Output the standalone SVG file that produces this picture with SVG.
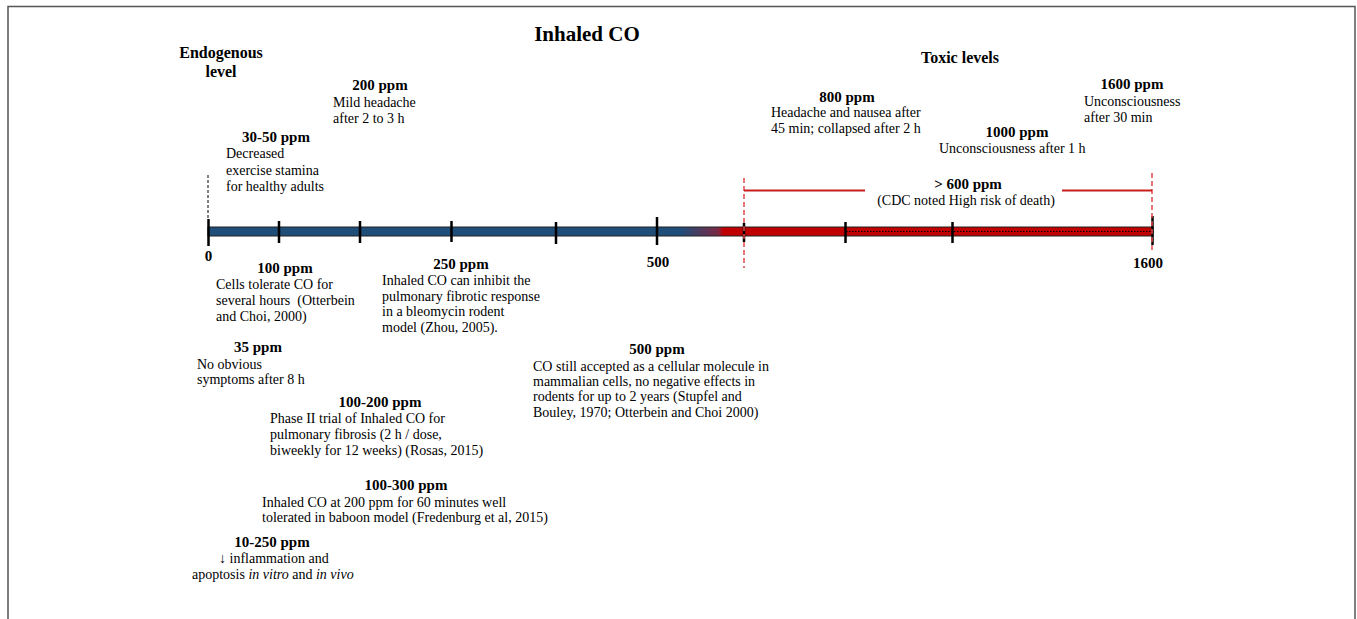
<svg xmlns="http://www.w3.org/2000/svg" width="1357" height="619" viewBox="0 0 1357 619">
<defs>
<linearGradient id="barGrad" gradientUnits="userSpaceOnUse" x1="208" y1="0" x2="1153" y2="0">
<stop offset="0" stop-color="#1F4E79"/>
<stop offset="0.5" stop-color="#1F4E79"/>
<stop offset="0.54" stop-color="#7A2A45"/>
<stop offset="0.545" stop-color="#C00000"/>
<stop offset="1" stop-color="#C00000"/>
</linearGradient>
<style>
text{font-family:"Liberation Serif","Times New Roman",serif;fill:#000}
.b{font-weight:bold;font-size:15px;text-anchor:middle}
.t{font-size:14px}
.h{font-weight:bold;font-size:16px;text-anchor:middle}
.tick{stroke:#000;stroke-width:2.5}
.rd{stroke:#E04848;stroke-width:1.5;stroke-dasharray:5 3;fill:none}
.rs{stroke:#C81E1E;stroke-width:2}
</style>
</defs>
<rect x="8" y="6.5" width="1347" height="700" fill="#fff" stroke="#555" stroke-width="1.5"/>

<g id="connectors">
<line x1="208" y1="175" x2="208" y2="219" stroke="#000" stroke-width="1" stroke-dasharray="3 2"/>
<rect x="208" y="227" width="945" height="9" fill="url(#barGrad)" stroke="#222" stroke-width="1"/>
<line x1="846" y1="231.5" x2="1152" y2="231.5" stroke="#000" stroke-width="1" stroke-dasharray="1.5 1.5"/>
<line class="tick" x1="208.5" y1="219" x2="208.5" y2="246"/>
<line class="tick" x1="279" y1="221" x2="279" y2="243"/>
<line class="tick" x1="360" y1="221" x2="360" y2="243"/>
<line class="tick" x1="451.5" y1="221" x2="451.5" y2="242"/>
<line class="tick" x1="556" y1="222" x2="556" y2="244"/>
<line class="tick" x1="657" y1="217" x2="657" y2="245"/>
<line class="tick" x1="744" y1="223" x2="744" y2="242"/>
<line class="tick" x1="845.5" y1="222" x2="845.5" y2="243"/>
<line class="tick" x1="952.5" y1="222" x2="952.5" y2="243"/>
<line class="tick" x1="1152.5" y1="216" x2="1152.5" y2="245"/>
<line class="rd" x1="744" y1="178" x2="744" y2="268"/>
<line class="rd" x1="1152" y1="173" x2="1152" y2="250"/>
<line class="rs" x1="744" y1="190.5" x2="865" y2="190.5"/>
<line class="rs" x1="1062" y1="190.5" x2="1152" y2="190.5"/>
</g>

<g id="title"><text x="587" y="41" style="font-weight:bold;font-size:21px;text-anchor:middle">Inhaled CO</text></g>
<g id="endogenous"><text class="h" x="221" y="58">Endogenous</text><text class="h" x="221" y="77">level</text></g>
<g id="toxic"><text class="h" x="960" y="63">Toxic levels</text></g>

<g id="axis-labels">
<text class="b" x="208.5" y="261">0</text>
<text class="b" x="658" y="267">500</text>
<text class="b" x="1148" y="268">1600</text>
</g>

<g id="n200"><text class="b" x="380" y="90">200 ppm</text>
<text class="t" x="333" y="107">Mild headache</text><text class="t" x="333" y="123">after 2 to 3 h</text></g>

<g id="n30-50"><text class="b" x="276" y="142">30-50 ppm</text>
<text class="t" x="226" y="158">Decreased</text><text class="t" x="226" y="175">exercise stamina</text><text class="t" x="226" y="191">for healthy adults</text></g>

<g id="n800"><text class="b" x="847" y="102">800 ppm</text>
<text class="t" x="771" y="117">Headache and nausea after</text><text class="t" x="771" y="133">45 min; collapsed after 2 h</text></g>

<g id="n1000"><text class="b" x="1017" y="137">1000 ppm</text>
<text class="t" x="939" y="153">Unconsciousness after 1 h</text></g>

<g id="n1600"><text class="b" x="1132" y="89">1600 ppm</text>
<text class="t" x="1084" y="106">Unconsciousness</text><text class="t" x="1084" y="122">after 30 min</text></g>

<g id="n600"><text class="b" x="968" y="189">&gt; 600 ppm</text>
<text class="t" x="966" y="205" text-anchor="middle">(CDC noted High risk of death)</text></g>

<g id="n100"><text class="b" x="285" y="273">100 ppm</text>
<text class="t" x="216" y="289">Cells tolerate CO for</text><text class="t" x="216" y="305" xml:space="preserve">several hours  (Otterbein</text><text class="t" x="216" y="321">and Choi, 2000)</text></g>

<g id="n250"><text class="b" x="461" y="269">250 ppm</text>
<text class="t" x="382" y="285">Inhaled CO can inhibit the</text><text class="t" x="382" y="301">pulmonary fibrotic response</text><text class="t" x="382" y="316">in a bleomycin rodent</text><text class="t" x="382" y="332">model (Zhou, 2005).</text></g>

<g id="n35"><text class="b" x="258" y="352">35 ppm</text>
<text class="t" x="197" y="369">No obvious</text><text class="t" x="197" y="384">symptoms after 8 h</text></g>

<g id="n500"><text class="b" x="657" y="354">500 ppm</text>
<text class="t" x="533" y="371">CO still accepted as a cellular molecule in</text><text class="t" x="533" y="386">mammalian cells, no negative effects in</text><text class="t" x="533" y="401">rodents for up to 2 years (Stupfel and</text><text class="t" x="533" y="417">Bouley, 1970; Otterbein and Choi 2000)</text></g>

<g id="n100-200"><text class="b" x="380" y="407">100-200 ppm</text>
<text class="t" x="270" y="423">Phase II trial of Inhaled CO for</text><text class="t" x="270" y="439">pulmonary fibrosis (2 h / dose,</text><text class="t" x="270" y="455">biweekly for 12 weeks) (Rosas, 2015)</text></g>

<g id="n100-300"><text class="b" x="406" y="490">100-300 ppm</text>
<text class="t" x="262" y="507">Inhaled CO at 200 ppm for 60 minutes well</text><text class="t" x="262" y="522">tolerated in baboon model (Fredenburg et al, 2015)</text></g>

<g id="n10-250"><text class="b" x="272" y="547">10-250 ppm</text>
<text class="t" x="219" y="563">↓ inflammation and</text><text class="t" x="192" y="579">apoptosis <tspan font-style="italic">in vitro</tspan> and <tspan font-style="italic">in vivo</tspan></text></g>
</svg>
